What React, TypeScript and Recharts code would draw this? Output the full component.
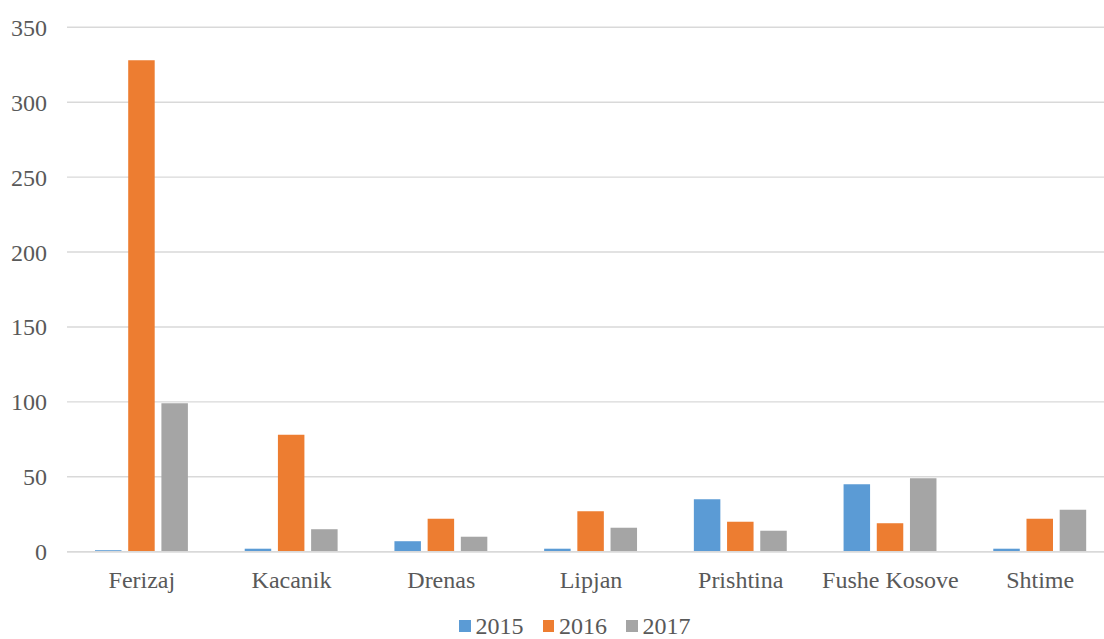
import React from "react";
import { BarChart, Bar, XAxis, YAxis, CartesianGrid, Legend } from "recharts";

const categories = ["Ferizaj", "Kacanik", "Drenas", "Lipjan", "Prishtina", "Fushe Kosove", "Shtime"];
const values2015 = [1, 2, 7, 2, 35, 45, 2];
const values2016 = [328, 78, 22, 27, 20, 19, 22];
const values2017 = [99, 15, 10, 16, 14, 49, 28];
const yTicks = [0, 50, 100, 150, 200, 250, 300, 350];

const seriesNames = ["2015", "2016", "2017"];
const colors = ["#5B9BD5", "#ED7D31", "#A5A5A5"];

const data = categories.map((name, i) => ({
  name,
  "2015": values2015[i],
  "2016": values2016[i],
  "2017": values2017[i],
}));

const FONT = '"Liberation Serif", "Times New Roman", serif';
const TEXT = "#595959";

const LegendContent = () => (
  <div style={{ display: "flex", alignItems: "center", fontFamily: FONT, fontSize: 24, lineHeight: "24px", color: TEXT, whiteSpace: "nowrap" }}>
    {seriesNames.map((s, i) => (
      <div key={s} style={{ display: "flex", alignItems: "center", marginRight: i < 2 ? 19 : 0 }}>
        <div style={{ width: 11.5, height: 11.5, background: colors[i], marginRight: 5 }} />
        <span>{s}</span>
      </div>
    ))}
  </div>
);

export default function App() {
  return (
    <div style={{ position: "absolute", top: 0, left: 0, width: 1104, height: 639, overflow: "hidden", background: "#fff" }}>
      <BarChart
        width={1120}
        height={639}
        data={data}
        margin={{ top: 27.3, right: 5, left: 0, bottom: 27.3 }}
        barSize={26.5}
        barGap={6.7}
      >
        <CartesianGrid vertical={false} stroke="#D9D9D9" strokeWidth={1.4} />
        <XAxis
          dataKey="name"
          height={60}
          tickLine={false}
          tickSize={0}
          tickMargin={19}
          axisLine={{ stroke: "#D9D9D9", strokeWidth: 1.4 }}
          tick={{ fill: TEXT, fontSize: 24, fontFamily: FONT }}
          interval={0}
        />
        <YAxis
          width={67}
          domain={[0, 350]}
          ticks={yTicks}
          tickLine={false}
          axisLine={false}
          tickSize={0}
          tickMargin={20}
          tick={{ fill: TEXT, fontSize: 24, fontFamily: FONT }}
        />
        <Legend
          layout="horizontal"
          verticalAlign="middle"
          align="center"
          wrapperStyle={{ top: 614, left: 459, width: "auto" }}
          content={<LegendContent />}
        />
        {seriesNames.map((s, i) => (
          <Bar key={s} dataKey={s} fill={colors[i]} isAnimationActive={false} />
        ))}
      </BarChart>
    </div>
  );
}
